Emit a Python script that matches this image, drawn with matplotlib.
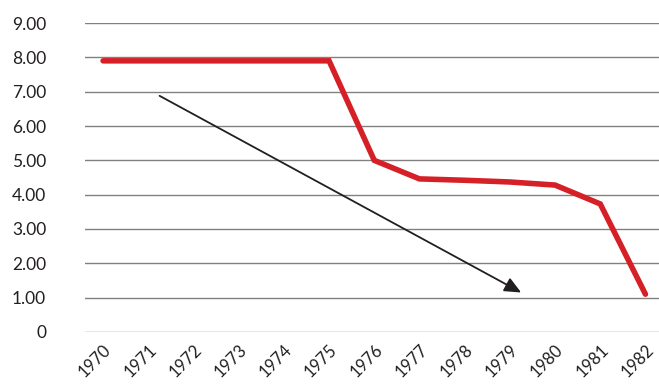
import matplotlib.pyplot as plt

# Yearly series
years = ['1970', '1971', '1972', '1973', '1974', '1975', '1976',
         '1977', '1978', '1979', '1980', '1981', '1982']
values = [7.90, 7.90, 7.90, 7.90, 7.90, 7.90, 5.00,
          4.46, 4.42, 4.37, 4.28, 3.73, 1.10]
y_ticks = [0, 1, 2, 3, 4, 5, 6, 7, 8, 9]
y_labels = ['0', '1.00', '2.00', '3.00', '4.00', '5.00', '6.00', '7.00', '8.00', '9.00']

# Trend arrow (category index, value)
arrow_start = (1.25, 6.88)
arrow_end = (9.25, 1.15)

text_color = '#231f20'
plt.rcParams['font.family'] = ['Lato', 'DejaVu Sans']

fig = plt.figure(figsize=(6.59, 3.91), dpi=100)
ax = fig.add_axes([0.129, 0.151, 0.871, 0.790])

x = list(range(len(years)))
ax.plot(x, values, color='#d62027', linewidth=4, solid_capstyle='round',
        solid_joinstyle='miter', zorder=3)

ax.annotate('', xy=arrow_end, xytext=arrow_start,
            arrowprops=dict(arrowstyle='-|>,head_length=1.0,head_width=0.45',
                            color=text_color, lw=1.3, shrinkA=0, shrinkB=0),
            zorder=4)

ax.set_xlim(-0.4, 12.3)
ax.set_ylim(0, 9)
ax.set_yticks(y_ticks)
ax.set_yticklabels(y_labels)
ax.set_xticks(x)
ax.set_xticklabels(years, rotation=45, ha='right', rotation_mode='anchor')

ax.yaxis.grid(True, color='#808080', linewidth=1)
ax.set_axisbelow(True)
for s in ax.spines.values():
    s.set_visible(False)
ax.tick_params(axis='y', length=0, pad=28, labelsize=12.5, labelcolor=text_color)
ax.tick_params(axis='x', length=0, pad=7, labelsize=12, labelcolor=text_color)

plt.savefig('out.png', dpi=100)
plt.close()
